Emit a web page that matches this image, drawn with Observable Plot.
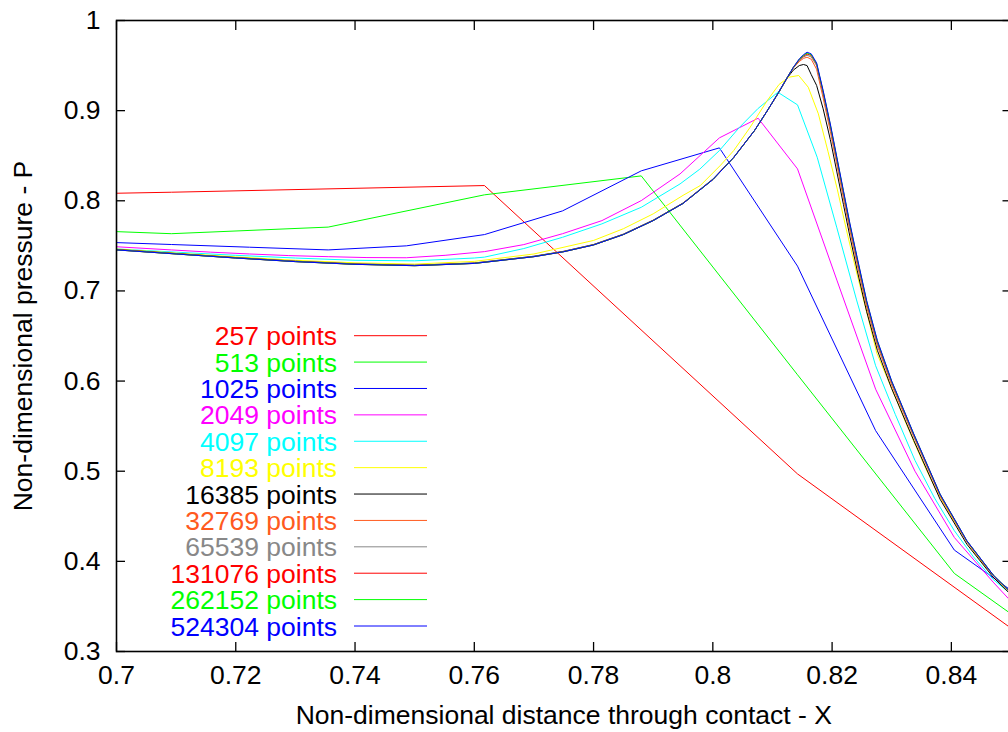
<!DOCTYPE html>
<html>
<head>
<meta charset="utf-8">
<script src="https://cdn.jsdelivr.net/npm/d3@7"></script>
<script src="https://cdn.jsdelivr.net/npm/@observablehq/plot@0.6"></script>
<style>
  html, body { margin: 0; padding: 0; background: #fff; }
  #wrap { position: relative; width: 1008px; height: 732px; overflow: hidden; }
  #legend { position: absolute; left: 0; top: 0; pointer-events: none; }
</style>
</head>
<body>
<div id="wrap"></div>
<script>
// ---------------- data ----------------
const seriesNames = ["257 points","513 points","1025 points","2049 points","4097 points","8193 points",
  "16385 points","32769 points","65539 points","131076 points","262152 points","524304 points"];

const xTicks = [0.7, 0.72, 0.74, 0.76, 0.78, 0.8, 0.82, 0.84];
const yTicks = [0.3, 0.4, 0.5, 0.6, 0.7, 0.8, 0.9, 1];

const x257 = [0.6567, 0.7092, 0.7617, 0.8142, 0.8667];
const p257 = [0.803, 0.8095, 0.8169, 0.497, 0.246];

const x513 = [0.6830, 0.7092, 0.7355, 0.7617, 0.7880, 0.8142, 0.8405, 0.8667];
const p513 = [0.770, 0.7635, 0.7708, 0.8066, 0.8276, 0.607, 0.3866, 0.263];

const x1025 = [0.6961, 0.7092, 0.7223, 0.7355, 0.7486, 0.7617, 0.7748, 0.7880, 0.8011, 0.8142, 0.8273, 0.8405, 0.8536];
const p1025 = [0.7545, 0.7515, 0.7485, 0.7455, 0.7500, 0.7625, 0.7888, 0.8332, 0.8587, 0.7275, 0.545, 0.4125, 0.351];

const x2049 = [0.6961, 0.7026, 0.7092, 0.7158, 0.7223, 0.7289, 0.7355, 0.7420, 0.7486, 0.7551, 0.7617, 0.7683,
  0.7748, 0.7814, 0.7880, 0.7945, 0.8011, 0.8076, 0.8142, 0.8208, 0.8273, 0.8339, 0.8405, 0.8470, 0.8536];
const p2049 = [0.7505, 0.748, 0.7455, 0.743, 0.741, 0.7392, 0.738, 0.737, 0.7368, 0.7395, 0.7436, 0.7514,
  0.7635, 0.778, 0.8002, 0.8298, 0.8698, 0.8916, 0.8354, 0.712, 0.591, 0.500, 0.4265, 0.377, 0.33];

const x4097 = [0.695, 0.700, 0.710, 0.720, 0.730, 0.740, 0.750, 0.760, 0.7617, 0.7683, 0.7748, 0.7814, 0.7880,
  0.7945, 0.7978, 0.8011, 0.8044, 0.8076, 0.8109, 0.8142, 0.8175, 0.8208, 0.8241, 0.8273, 0.8306, 0.8339,
  0.8372, 0.8405, 0.8437, 0.8470, 0.8503];
const p4097 = [0.7485, 0.7466, 0.743, 0.7395, 0.7365, 0.734, 0.7334, 0.7365, 0.7375, 0.747, 0.7595, 0.7744, 0.7928,
  0.8187, 0.835, 0.8557, 0.881, 0.9025, 0.9204, 0.9064, 0.8483, 0.770, 0.690, 0.617, 0.563, 0.512,
  0.470, 0.434, 0.405, 0.380, 0.362];

const x8193 = [0.695, 0.700, 0.710, 0.720, 0.730, 0.740, 0.750, 0.760, 0.770, 0.780, 0.785, 0.790, 0.795, 0.7979,
  0.8013, 0.8035, 0.8062, 0.8091, 0.8111, 0.8127, 0.8144, 0.8160, 0.8177, 0.8193, 0.8209, 0.8226, 0.8242,
  0.8259, 0.8275, 0.8292, 0.8308, 0.8324, 0.8341, 0.8357, 0.8373, 0.8390, 0.8406, 0.8423, 0.8439, 0.8455,
  0.8472, 0.8488, 0.8504];
const p8193 = [0.7482, 0.7465, 0.742, 0.7378, 0.734, 0.7312, 0.7298, 0.7328, 0.741, 0.756, 0.769, 0.7855, 0.806, 0.8169,
  0.8395, 0.8557, 0.881, 0.911, 0.929, 0.937, 0.939, 0.926, 0.8964, 0.855, 0.812, 0.762, 0.718,
  0.674, 0.631, 0.604, 0.579, 0.553, 0.527, 0.503, 0.481, 0.461, 0.443, 0.425, 0.4095, 0.396,
  0.3835, 0.372, 0.3625];

// shared abscissae for the finest grids
const xFine = [0.695, 0.700, 0.710, 0.720, 0.730, 0.740, 0.750, 0.760, 0.770, 0.775, 0.780, 0.785, 0.790, 0.795,
  0.800, 0.8035, 0.807, 0.809, 0.811, 0.8125, 0.8135, 0.8145, 0.8152, 0.8158, 0.8165, 0.8174, 0.8185, 0.8197,
  0.8208, 0.8219, 0.8230, 0.8242, 0.8258, 0.8276, 0.8300, 0.8337, 0.8381, 0.8426, 0.8470, 0.8500, 0.8530];

const p16385 = [0.748, 0.746, 0.7415, 0.737, 0.733, 0.73, 0.7285, 0.731, 0.7385, 0.744, 0.7515, 0.763, 0.7785, 0.7975,
  0.824, 0.8483, 0.878, 0.8985, 0.9195, 0.9365, 0.945, 0.950, 0.9512, 0.950, 0.940, 0.928, 0.902, 0.868,
  0.832, 0.796, 0.760, 0.723, 0.677, 0.634, 0.5915, 0.534, 0.469, 0.419, 0.3825, 0.363, 0.347];
const p32769 = [0.7477, 0.7457, 0.7412, 0.7367, 0.7327, 0.7297, 0.7282, 0.7307, 0.7382, 0.7437, 0.7512, 0.7627, 0.7782, 0.7972,
  0.8237, 0.8481, 0.878, 0.8985, 0.9198, 0.9368, 0.9473, 0.9545, 0.958, 0.9593, 0.957, 0.946, 0.914, 0.877,
  0.840, 0.803, 0.7665, 0.7295, 0.682, 0.639, 0.5955, 0.538, 0.4725, 0.4215, 0.3842, 0.3648, 0.3475];
const p65539 = [0.7476, 0.7456, 0.7411, 0.7366, 0.7326, 0.7296, 0.7281, 0.7306, 0.7381, 0.7436, 0.7511, 0.7626, 0.7781, 0.7971,
  0.8236, 0.848, 0.878, 0.8985, 0.92, 0.937, 0.9478, 0.9558, 0.9595, 0.9615, 0.9595, 0.950, 0.918, 0.881,
  0.844, 0.807, 0.770, 0.733, 0.685, 0.641, 0.5975, 0.5395, 0.4735, 0.4222, 0.3846, 0.3652, 0.3478];
const p131076 = [0.7475, 0.7455, 0.741, 0.7365, 0.7325, 0.7295, 0.728, 0.7305, 0.738, 0.7435, 0.751, 0.7625, 0.778, 0.797,
  0.8235, 0.848, 0.878, 0.8985, 0.92, 0.937, 0.948, 0.9565, 0.9603, 0.9628, 0.9612, 0.9515, 0.920, 0.883,
  0.846, 0.809, 0.772, 0.735, 0.687, 0.6428, 0.5988, 0.5405, 0.4742, 0.4226, 0.3848, 0.3654, 0.348];
const p262152 = [0.7475, 0.7455, 0.741, 0.7365, 0.7325, 0.7295, 0.728, 0.7305, 0.738, 0.7435, 0.751, 0.7625, 0.778, 0.797,
  0.8235, 0.848, 0.878, 0.8985, 0.92, 0.937, 0.948, 0.957, 0.9612, 0.9638, 0.962, 0.9522, 0.9215, 0.8845,
  0.8475, 0.8105, 0.7735, 0.7365, 0.6885, 0.6442, 0.5996, 0.541, 0.4745, 0.4228, 0.385, 0.3655, 0.348];
const p524304 = [0.7475, 0.7455, 0.741, 0.7365, 0.7325, 0.7295, 0.728, 0.7305, 0.738, 0.7435, 0.751, 0.7625, 0.778, 0.797,
  0.8235, 0.848, 0.878, 0.8985, 0.92, 0.937, 0.948, 0.9575, 0.962, 0.9648, 0.963, 0.953, 0.9223, 0.8853,
  0.8483, 0.8113, 0.7744, 0.7373, 0.6892, 0.6448, 0.600, 0.5413, 0.4747, 0.4229, 0.385, 0.3655, 0.348];

// ---------------- styles ----------------
const seriesColors = ["#ff0000","#00ff00","#0000ff","#ff00ff","#00ffff","#ffff00",
  "#000000","#ff5a1e","#888888","#ff0000","#00ff00","#0000ff"];
const FONT = "'Liberation Sans', Arial, Helvetica, sans-serif";
const FS = 26.5;

// ---------------- build table ----------------
const seriesXY = [
  [x257, p257], [x513, p513], [x1025, p1025], [x2049, p2049], [x4097, p4097], [x8193, p8193],
  [xFine, p16385], [xFine, p32769], [xFine, p65539], [xFine, p131076], [xFine, p262152], [xFine, p524304]
];
const rows = [];
seriesXY.forEach(([xs, ps], i) => {
  xs.forEach((x, j) => rows.push({series: seriesNames[i], X: x, P: ps[j]}));
});

const W = 1008, H = 732;
const chart = Plot.plot({
  width: W, height: H,
  marginLeft: 116, marginRight: -2.5, marginTop: 20, marginBottom: 81,
  style: {fontFamily: FONT, fontSize: FS + "px", background: "#fff", color: "#000"},
  x: {domain: [0.7, 0.85], range: [116, 1010.5], ticks: xTicks},
  y: {domain: [0.3, 1], range: [651, 20], ticks: yTicks},
  color: {domain: seriesNames, range: seriesColors},
  marks: [
    Plot.line(rows, {x: "X", y: "P", z: "series", stroke: "series", strokeWidth: 1, clip: true}),
    Plot.frame({stroke: "#000", strokeWidth: 1.6}),
    // inward ticks on all four sides
    Plot.axisX(xTicks, {anchor: "bottom", tickSize: -9, tickFormat: () => "", label: null, strokeWidth: 1.3}),
    Plot.axisX(xTicks, {anchor: "top", tickSize: -9, tickFormat: () => "", label: null, strokeWidth: 1.3}),
    Plot.axisY(yTicks, {anchor: "left", tickSize: -9, tickFormat: () => "", label: null, strokeWidth: 1.3}),
    Plot.axisY(yTicks, {anchor: "right", tickSize: -9, tickFormat: () => "", label: null, strokeWidth: 1.3}),
    // labels
    Plot.axisX(xTicks, {anchor: "bottom", tickSize: 0, tickPadding: 14, tickFormat: d => String(d),
      label: "Non-dimensional distance through contact - X", labelAnchor: "center", labelArrow: "none", labelOffset: 72}),
    Plot.axisY(yTicks, {anchor: "left", tickSize: 0, tickPadding: 16, tickFormat: d => String(d),
      label: "Non-dimensional pressure - P", labelAnchor: "center", labelArrow: "none", labelOffset: 103})
  ]
});
const wrap = document.getElementById("wrap");
wrap.appendChild(chart);

// ---------------- in-plot key (gnuplot style) ----------------
const key = d3.select(wrap).append("svg")
  .attr("id", "legend").attr("width", W).attr("height", H)
  .style("font-family", FONT).style("font-size", FS + "px");
const rowY = d3.scaleLinear().domain([0, seriesNames.length - 1]).range([335.7, 626]);
const g = key.selectAll("g").data(seriesNames).join("g")
  .attr("transform", (d, i) => `translate(0,${rowY(i)})`);
g.append("text").attr("x", 337).attr("y", 9.5).attr("text-anchor", "end")
  .attr("fill", (d, i) => seriesColors[i]).text(d => d);
g.append("line").attr("x1", 354).attr("x2", 427).attr("y1", 0).attr("y2", 0)
  .attr("stroke", (d, i) => seriesColors[i]).attr("stroke-width", 1);
</script>
</body>
</html>
